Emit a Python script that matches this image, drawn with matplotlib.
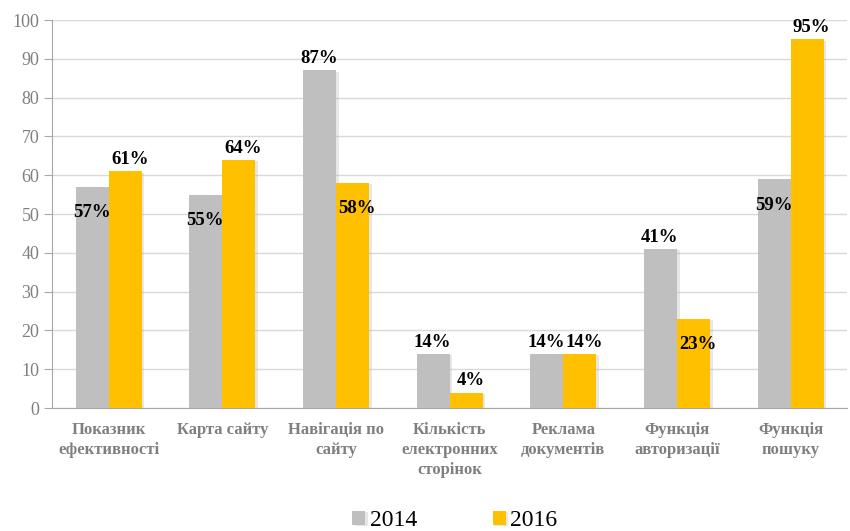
import matplotlib.pyplot as plt
import matplotlib.patheffects as pe
import numpy as np

categories = ['Показник\nефективності', 'Карта сайту', 'Навігація по\nсайту',
              'Кількість\nелектронних\nсторінок', 'Реклама\nдокументів',
              'Функція\nавторизації', 'Функція\nпошуку']
vals_2014 = [57, 55, 87, 14, 14, 41, 59]
vals_2016 = [61, 64, 58, 4, 14, 23, 95]
series_names = ['2014', '2016']

# where the data label sits: True = inside bar top, False = above bar
inside_2014 = [True, True, False, False, False, False, True]
inside_2016 = [False, False, True, False, False, True, False]

plt.rcParams['font.family'] = ['Liberation Serif', 'DejaVu Serif']

fig = plt.figure(figsize=(8.5, 5.31), dpi=100)
ax = fig.add_axes([0.061, 0.2316, 0.936, 0.7307])

x = np.arange(len(categories))
w = 0.29
shadow = [pe.SimplePatchShadow(offset=(2, -1), shadow_rgbFace='#b0b0b0', alpha=0.3), pe.Normal()]
b1 = ax.bar(x - w / 2, vals_2014, w, color='#BFBFBF', label=series_names[0], zorder=3,
            path_effects=shadow)
b2 = ax.bar(x + w / 2, vals_2016, w, color='#FFC000', label=series_names[1], zorder=3,
            path_effects=shadow)

for bars, vals, inside, dx in [(b1, vals_2014, inside_2014, -0.005),
                               (b2, vals_2016, inside_2016, 0.04)]:
    for rect, v, ins in zip(bars, vals, inside):
        cx = rect.get_x() + rect.get_width() / 2 + dx
        if ins:
            ax.text(cx, v - 6.7, f'{v}%', ha='center', va='center',
                    fontsize=13.5, fontweight='bold', color='black', zorder=5)
        else:
            ax.text(cx, v + 0.8, f'{v}%', ha='center', va='bottom',
                    fontsize=13.5, fontweight='bold', color='black', zorder=5)

ax.set_xlim(-0.5, len(categories) - 0.5)
ax.set_ylim(0, 100)
ax.set_yticks(range(0, 101, 10))
ax.set_xticks(x)
ax.set_xticklabels(categories, fontsize=12, fontweight='bold', color='#7F7F7F',
                   linespacing=1.35)
ax.tick_params(axis='x', length=0, pad=10)
ax.tick_params(axis='y', labelsize=13, labelcolor='#7F7F7F', color='#A6A6A6',
               length=6, pad=3)
ax.grid(axis='y', color='#D9D9D9', linewidth=1, zorder=0)
for s in ['top', 'right']:
    ax.spines[s].set_visible(False)
ax.spines['left'].set_color('#A6A6A6')
ax.spines['bottom'].set_color('#A6A6A6')

fig.legend(handles=[b1, b2], labels=series_names, loc='lower center',
           bbox_to_anchor=(0.535, -0.04), ncol=2, frameon=False, fontsize=17,
           handlelength=0.55, handleheight=0.55, handletextpad=0.2, columnspacing=3.2)

fig.savefig('out.png', dpi=100)
